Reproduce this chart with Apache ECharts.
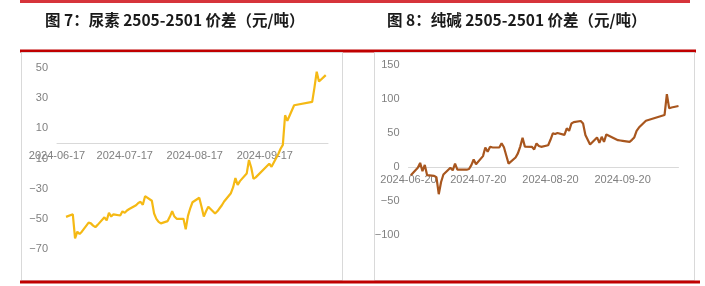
<!DOCTYPE html>
<html><head><meta charset="utf-8">
<script src="https://cdn.jsdelivr.net/npm/echarts@6/dist/echarts.min.js"></script>
<style>html,body{margin:0;padding:0;background:#fff}#c{width:705px;height:286px}</style>
</head><body><div id="c"></div>
<script>
const titles = ['图 7：尿素 2505-2501 价差（元/吨）', '图 8：纯碱 2505-2501 价差（元/吨）'];
const tradeDates = [
 '2024-06-21','2024-06-24','2024-06-25','2024-06-26','2024-06-27','2024-06-28',
 '2024-07-01','2024-07-02','2024-07-03','2024-07-04','2024-07-05',
 '2024-07-08','2024-07-09','2024-07-10','2024-07-11','2024-07-12',
 '2024-07-15','2024-07-16','2024-07-17','2024-07-18','2024-07-19',
 '2024-07-22','2024-07-23','2024-07-24','2024-07-25','2024-07-26',
 '2024-07-29','2024-07-30','2024-07-31','2024-08-01','2024-08-02',
 '2024-08-05','2024-08-06','2024-08-07','2024-08-08','2024-08-09',
 '2024-08-12','2024-08-13','2024-08-14','2024-08-15','2024-08-16',
 '2024-08-19','2024-08-20','2024-08-21','2024-08-22','2024-08-23',
 '2024-08-26','2024-08-27','2024-08-28','2024-08-29','2024-08-30',
 '2024-09-02','2024-09-03','2024-09-04','2024-09-05','2024-09-06',
 '2024-09-09','2024-09-10','2024-09-11','2024-09-12','2024-09-13',
 '2024-09-18','2024-09-19','2024-09-20',
 '2024-09-23','2024-09-24','2024-09-25','2024-09-26','2024-09-27',
 '2024-09-30','2024-10-08','2024-10-09','2024-10-10','2024-10-11','2024-10-14'
];
const ureaSpread = [
 -48.7,-47,-63,-58.5,-60,-58.5,
 -52.5,-53,-54.5,-55.5,-54,
 -49,-51,-46,-48.5,-47,
 -47.8,-45,-46,-44.5,-43.5,
 -41,-39.5,-38.7,-40.7,-35,
 -38,-46.5,-50,-52,-53,
 -51.5,-48.5,-45,-48.5,-50,
 -50,-57,-48,-43,-39,
 -36,-42,-48.5,-45,-42,
 -46.5,-45,-43,-41,-38.5,
 -33,-29,-23,-27.5,-25,
 -20,-11,-16,-23.5,-22.5,
 -15,-13.5,-15.5,
 -7,-3.5,-1,18.7,15,
 25.3,27.5,37,47.5,41,45.3
];
const sodaSpread = [
 -12,-1,6,-6,3,-12,
 -13,-15,-40,-22,-11,
 -1,-5,5,-4,-4,
 -4,-3,2.7,11,4,
 16,28.7,22.5,29.5,29,
 28.7,35,29,17,5,
 14,20,30,43,30,
 29.7,25.8,34.7,31,29.7,
 32,40,49.4,48.5,50,
 47.3,56.8,53.2,64,66,
 67.6,64,47,40,33,
 43.5,35.5,44.4,37,47.9,
 39.5,39,38.5,
 37,40,43.5,53.2,58,
 68,76.4,107,86.3,87.5,89.7
];
const ureaTickLabels = ['2024-06-17','2024-07-17','2024-08-17','2024-09-17'];
const sodaTickLabels = ['2024-06-20','2024-07-20','2024-08-20','2024-09-20'];
const ureaXRange = ['2024-06-17','2024-10-15'];
const sodaXRange = ['2024-06-20','2024-10-14'];
const ureaYRange = [-70, 50, 20];
const sodaYRange = [-100, 150, 50];

function ts(s){ const p = s.split('-').map(Number); return Date.UTC(p[0], p[1]-1, p[2]); }
function fmt(v){ const d = new Date(v); const pad = n => (n<10?'0':'')+n;
  return d.getUTCFullYear()+'-'+pad(d.getUTCMonth()+1)+'-'+pad(d.getUTCDate()); }

const axisGray = '#d9d9d9';
const labelStyle = {color:'#808080', fontSize:11, fontFamily:'Liberation Sans, Arial, sans-serif'};

const grids = [
  {left:57, top:68, width:271, height:181},
  {left:408.5, top:65, width:270, height:170}
];
// distance from grid bottom up to the zero line, so the date axis sits on y = 0
function zeroOffset(g, r){ return -g.height * (0 - r[0]) / (r[1] - r[0]); }

function xAx(gi, range, ticks, yr){
  return {type:'value', gridIndex:gi, min:ts(range[0]), max:ts(range[1]), scale:true,
    position:'bottom', offset:zeroOffset(grids[gi], yr),
    axisLine:{onZero:false, lineStyle:{color:axisGray, width:1}},
    axisTick:{show:false}, splitLine:{show:false},
    axisLabel:Object.assign({customValues:ticks.map(ts), formatter:fmt, margin:7, hideOverlap:false}, labelStyle)};
}
function yAx(gi, r){
  return {type:'value', gridIndex:gi, min:r[0], max:r[1], interval:r[2],
    axisLine:{show:false}, axisTick:{show:false}, splitLine:{show:false},
    axisLabel:Object.assign({margin:9, formatter:v => String(v).replace('-', '\u2212')}, labelStyle)};
}

const titleStyle = {fontFamily:'Noto Sans CJK SC', fontWeight:'bold', fontSize:15.5, color:'#1a1a1a'};
const chart = echarts.init(document.getElementById('c'), null, {renderer:'canvas'});
chart.setOption({
  animation:false,
  backgroundColor:'#fff',
  title:[
    {text:titles[0], left:45, top:12, padding:0, textStyle:titleStyle},
    {text:titles[1], left:387, top:12, padding:0, textStyle:titleStyle}
  ],
  graphic:[
    {type:'rect', shape:{x:20, y:0, width:670, height:3}, style:{fill:'#D6343B'}, silent:true},
    {type:'rect', shape:{x:20, y:49.5, width:676, height:3}, style:{fill:'#C00000'}, silent:true},
    {type:'rect', shape:{x:21.5, y:52.5, width:321, height:228}, style:{fill:'none', stroke:'#d9d9d9', lineWidth:1}, silent:true},
    {type:'rect', shape:{x:374.5, y:52.5, width:320, height:228}, style:{fill:'none', stroke:'#d9d9d9', lineWidth:1}, silent:true},
    {type:'rect', shape:{x:20, y:280.5, width:680, height:3}, style:{fill:'#C00000'}, silent:true}
  ],
  grid:grids,
  xAxis:[xAx(0, ureaXRange, ureaTickLabels, ureaYRange), xAx(1, sodaXRange, sodaTickLabels, sodaYRange)],
  yAxis:[yAx(0, ureaYRange), yAx(1, sodaYRange)],
  series:[
    {type:'line', xAxisIndex:0, yAxisIndex:0, showSymbol:false, symbol:'none',
     lineStyle:{color:'#F5B914', width:2.2}, data:tradeDates.map((d,i)=>[ts(d), ureaSpread[i]])},
    {type:'line', xAxisIndex:1, yAxisIndex:1, showSymbol:false, symbol:'none',
     lineStyle:{color:'#A8561E', width:2.2}, data:tradeDates.map((d,i)=>[ts(d), sodaSpread[i]])}
  ]
});
</script></body></html>
